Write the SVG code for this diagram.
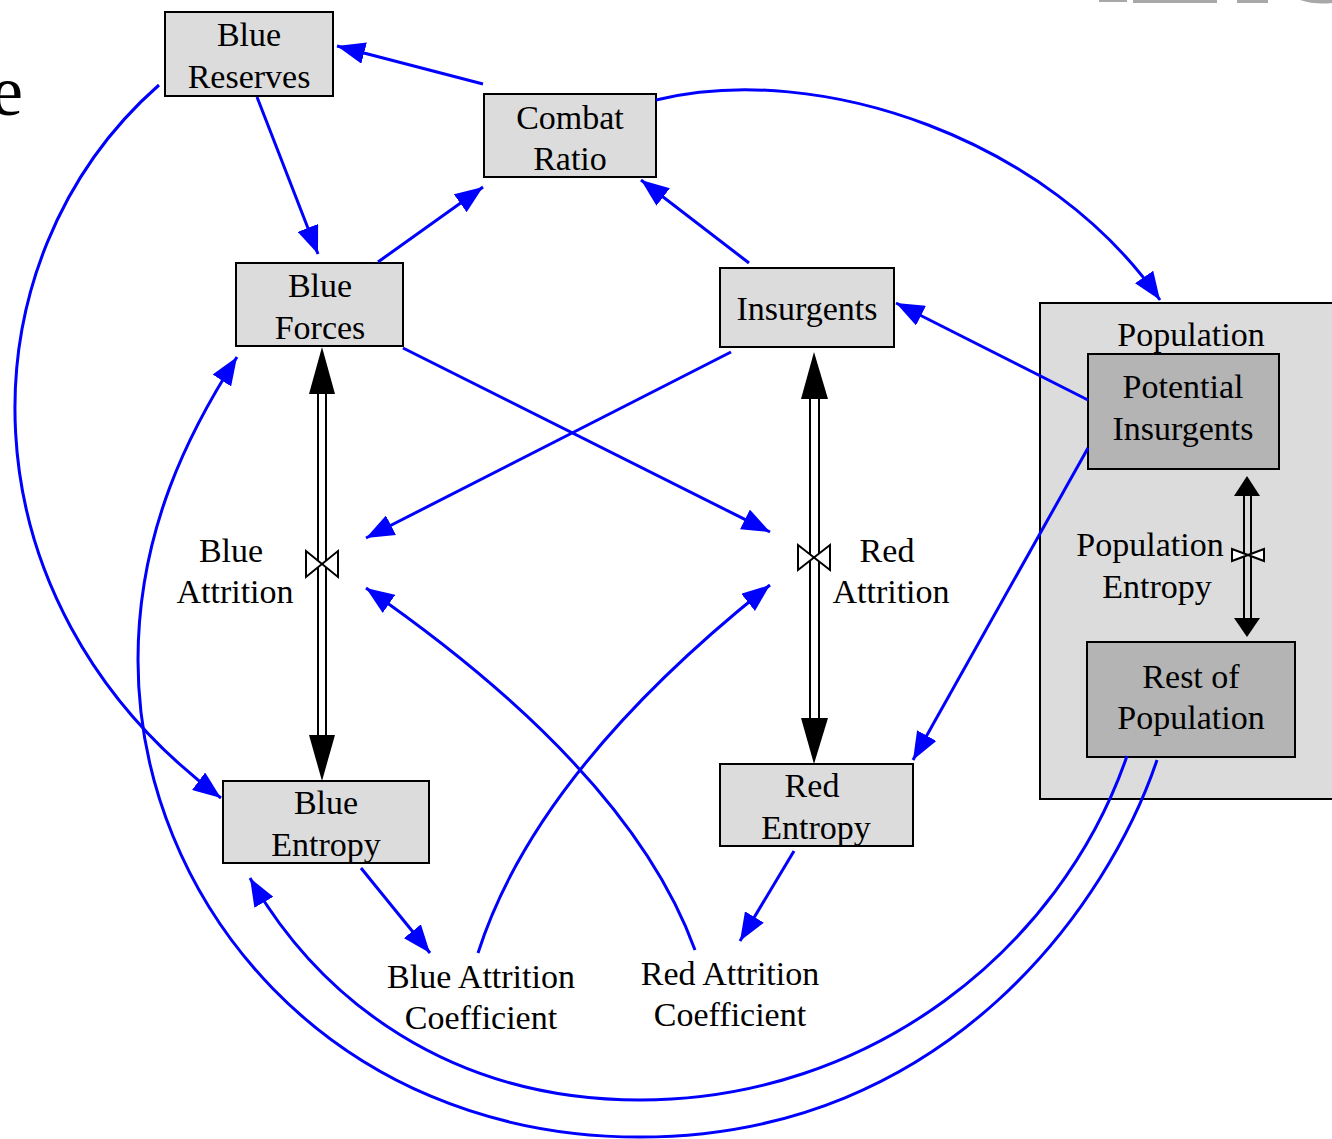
<svg xmlns="http://www.w3.org/2000/svg" width="1332" height="1139" viewBox="0 0 1332 1139">
<defs>
<marker id="ab" viewBox="0 0 28 22" refX="28" refY="11" markerWidth="28" markerHeight="22" markerUnits="userSpaceOnUse" orient="auto"><path d="M0,0 L28,11 L0,22 z" fill="#0000ff"/></marker>
<style>
.n{fill:#dcdcdc;stroke:#000;stroke-width:2}
.d{fill:#b4b4b4;stroke:#000;stroke-width:2}
text{font-family:"Liberation Serif","Times New Roman",serif;font-size:34px;fill:#000;text-anchor:middle}
.c{fill:none;stroke:#0000ff;stroke-width:3;marker-end:url(#ab)}
.p{stroke:#000;stroke-width:2;fill:none}
.h{fill:#000}
.v{fill:#fff;stroke:#000;stroke-width:2}
</style>
</defs>
<rect width="1332" height="1139" fill="#fff"/>
<text x="-9" y="115" style="font-size:72px;text-anchor:start">e</text>
<g id="logo" fill="#a8a8a8">
<rect x="1099" y="0" width="28" height="2"/>
<rect x="1133" y="0" width="84" height="3"/>
<rect x="1237" y="0" width="31" height="3"/>
<path d="M1300,0 L1332,0 L1332,3 Q1315,5 1300,0 z"/>
</g>
<g id="population">
<rect x="1040" y="303" width="300" height="496" class="n"/>
<text x="1191" y="346">Population</text>
</g>
<g id="flows">
<line x1="318" y1="390" x2="318" y2="740" class="p"/>
<line x1="326" y1="390" x2="326" y2="740" class="p"/>
<path d="M322,347 L335,394 L309,394 z" class="h"/>
<path d="M322,781 L335,735 L309,735 z" class="h"/>
<path d="M306,551 L338,577 L338,551 L306,577 z" class="v"/>
<line x1="810" y1="395" x2="810" y2="722" class="p"/>
<line x1="819" y1="395" x2="819" y2="722" class="p"/>
<path d="M814,352 L828,399 L801,399 z" class="h"/>
<path d="M814,764 L828,718 L801,718 z" class="h"/>
<path d="M798,545 L830,570 L830,545 L798,570 z" class="v"/>
<line x1="1244" y1="492" x2="1244" y2="622" class="p"/>
<line x1="1251" y1="492" x2="1251" y2="622" class="p"/>
<path d="M1247,476 L1260,496 L1234,496 z" class="h"/>
<path d="M1247,637 L1260,618 L1234,618 z" class="h"/>
<path d="M1232,549 L1264,561 L1264,549 L1232,561 z" class="v"/>
</g>
<g id="blue-reserves"><rect x="165" y="12" width="168" height="84" class="n"/><text x="249" y="46">Blue</text><text x="249" y="88">Reserves</text></g>
<g id="combat-ratio"><rect x="484" y="94" width="172" height="83" class="n"/><text x="570" y="129">Combat</text><text x="570" y="170">Ratio</text></g>
<g id="blue-forces"><rect x="236" y="263" width="167" height="83" class="n"/><text x="320" y="297">Blue</text><text x="320" y="339">Forces</text></g>
<g id="insurgents"><rect x="720" y="268" width="174" height="79" class="n"/><text x="807" y="320">Insurgents</text></g>
<g id="potential-insurgents"><rect x="1088" y="354" width="191" height="115" class="d"/><text x="1183" y="398">Potential</text><text x="1183" y="440">Insurgents</text></g>
<g id="rest-of-population"><rect x="1087" y="642" width="208" height="115" class="d"/><text x="1191" y="688">Rest of</text><text x="1191" y="729">Population</text></g>
<g id="blue-entropy"><rect x="223" y="781" width="206" height="82" class="n"/><text x="326" y="814">Blue</text><text x="326" y="856">Entropy</text></g>
<g id="red-entropy"><rect x="720" y="764" width="193" height="82" class="n"/><text x="812" y="797">Red</text><text x="816" y="839">Entropy</text></g>
<g id="blue-attrition"><text x="231" y="562">Blue</text><text x="235" y="603">Attrition</text></g>
<g id="red-attrition"><text x="887" y="562">Red</text><text x="891" y="603">Attrition</text></g>
<g id="population-entropy"><text x="1150" y="556">Population</text><text x="1157" y="598">Entropy</text></g>
<g id="blue-attrition-coefficient"><text x="481" y="988">Blue Attrition</text><text x="481" y="1029">Coefficient</text></g>
<g id="red-attrition-coefficient"><text x="730" y="985">Red Attrition</text><text x="730" y="1026">Coefficient</text></g>
<g id="connectors">
<path class="c" d="M483,84 L337,46"/>
<path class="c" d="M257,97 L318,254"/>
<path class="c" d="M378,262 L483,187"/>
<path class="c" d="M749,263 L641,180"/>
<path class="c" d="M656,100 C820,60 1050,140 1160,300"/>
<path class="c" d="M1088,400 L896,303"/>
<path class="c" d="M1088,448 L913,760"/>
<path class="c" d="M731,352 L366,538"/>
<path class="c" d="M403,348 L770,532"/>
<path class="c" d="M695,950 Q630,771 366,588"/>
<path class="c" d="M478,953 Q536,771 770,585"/>
<path class="c" d="M361,868 L430,953"/>
<path class="c" d="M794,851 L740,941"/>
<path class="c" d="M159,85 C-40,260 -45,600 221,798"/>
<path class="c" d="M1127,756 C1060,950 870,1100 640,1100 C450,1100 320,1000 250,878"/>
<path class="c" d="M1157,760 C1110,900 950,1137 640,1137 C330,1137 138,900 138,660 C138,530 190,430 237,357"/>
</g>
</svg>
